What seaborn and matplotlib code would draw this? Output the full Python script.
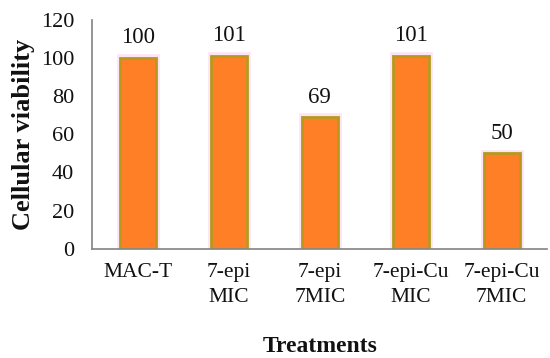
import pandas as pd
import numpy as np
import matplotlib.pyplot as plt
import seaborn as sns

treatments = ["MAC-T", "7-epi\nMIC", "7-epi\n7MIC", "7-epi-Cu\nMIC", "7-epi-Cu\n7MIC"]
viability = [100, 101, 69, 101, 50]

df = pd.DataFrame({"Treatment": treatments, "Viability": viability})

sns.set_theme(style="white")
plt.rcParams['font.family'] = ['Liberation Serif', 'DejaVu Serif']

fig, ax = plt.subplots(figsize=(5.5, 3.58), dpi=100)

# faint pink halo behind each bar
sns.barplot(data=df, x="Treatment", y="Viability", color="#fde3f3", width=0.48,
            saturation=1, ax=ax, zorder=1)
sns.barplot(data=df, x="Treatment", y="Viability", color="#ff7f27", width=0.4,
            saturation=1, edgecolor="#b59a20", linewidth=2, ax=ax, zorder=2)

# halo bars extend slightly higher
for p in ax.patches[:len(treatments)]:
    p.set_height(p.get_height() + 2.5)

for i, v in enumerate(viability):
    ax.text(i, v + 5, str(v), ha="center", va="bottom", fontsize=16.5, color="#111111")

ax.set_ylim(0, 120)
ax.set_xlim(-0.5, len(treatments) - 0.5)
ax.set_yticks(range(0, 121, 20))
ax.set_xticks(np.arange(-0.5, len(treatments), 1.0), minor=True)
ax.tick_params(axis="x", which="major", length=0, labelsize=15.5, pad=10)
ax.tick_params(axis="x", which="minor", length=6, color="#888888", direction="out")
ax.tick_params(axis="y", length=5, color="#888888", labelsize=16, direction="out", pad=8)
for t in ax.get_xticklabels():
    t.set_linespacing(1.45)
for t in ax.get_xticklabels() + ax.get_yticklabels():
    t.set_color("#111111")
ax.set_ylabel("Cellular viability", fontsize=19, fontweight="bold", color="#111111", labelpad=4)
ax.set_xlabel("Treatments", fontsize=17, fontweight="bold", color="#111111", labelpad=21)

sns.despine(ax=ax, top=True, right=True)
ax.spines["left"].set_color("#888888")
ax.spines["bottom"].set_color("#888888")

plt.subplots_adjust(left=0.168, right=0.995, top=0.945, bottom=0.305)
plt.savefig("out.png", dpi=100)
